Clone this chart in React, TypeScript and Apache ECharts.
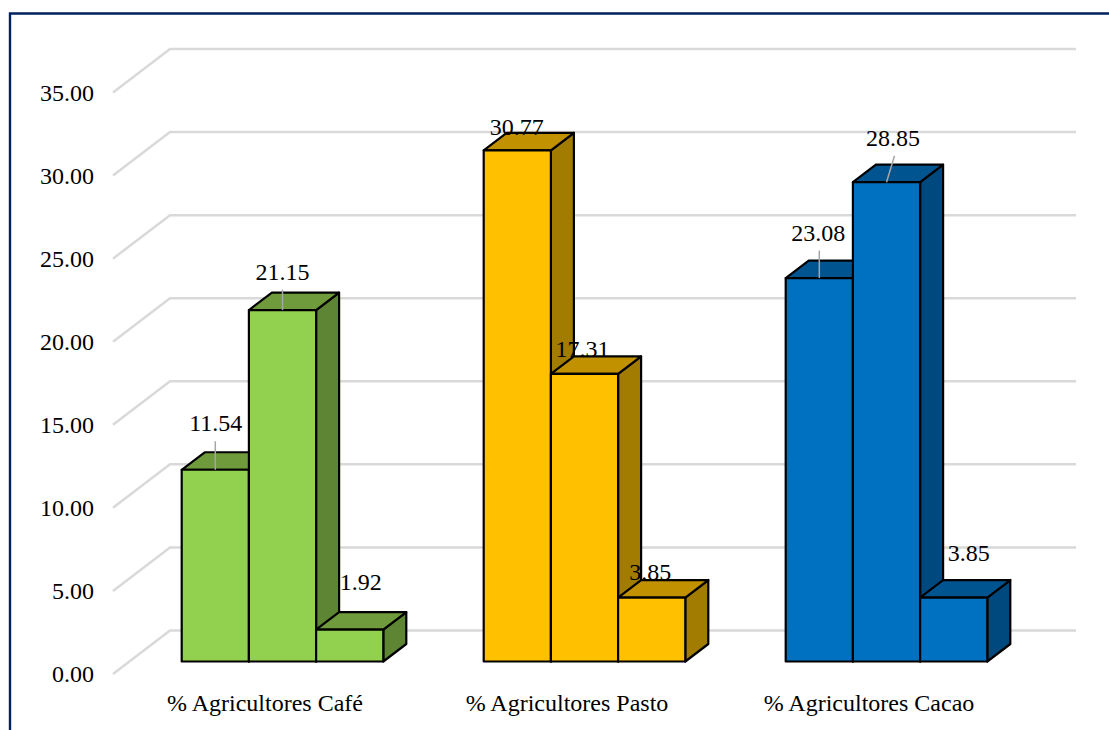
import React, { useEffect, useRef } from "react";
import * as echarts from "echarts";

const categories = ["% Agricultores Café", "% Agricultores Pasto", "% Agricultores Cacao"];
const firstBarValues = [11.54, 30.77, 23.08];
const secondBarValues = [21.15, 17.31, 28.85];
const thirdBarValues = [1.92, 3.85, 3.85];
const tickValues = [0, 5, 10, 15, 20, 25, 30, 35];

// Face colours per category: front, top, side.
const frontColors = ["#92d050", "#ffc000", "#0070c0"];
const topColors = ["#6f9b3d", "#c19100", "#005591"];
const sideColors = ["#5e8534", "#a17c00", "#00497e"];

// Data-label displacement from the centre of each bar's top front edge.
const labelShiftX = [
  [0.5, 0, 11],
  [-0.5, -2, -1.5],
  [-1, 6.5, 15],
];
const labelShiftY = [
  [-46.5, -38.5, -48],
  [-23.5, -25, -26],
  [-45.5, -44.5, -45],
];
// Leader lines: whether a label has one, and how far its far end leans.
const leaderLean = [
  [0, 0, null],
  [null, null, null],
  [0, 8, null],
];

// Oblique projection of the floor and bars.
const WALL_DX = 57;
const WALL_DY = -43.5;
const BAR_FRONT_DX = 18.5;
const BAR_FRONT_DY = -12.5;
const BAR_DEPTH_DX = 23;
const BAR_DEPTH_DY = -17.5;
const BAR_BAND_RATIO = 0.2225;
const FONT_FAMILY = '"Liberation Serif", "Times New Roman", serif';

const allValues = [firstBarValues, secondBarValues, thirdBarValues];
const barRows = categories.flatMap((_, cat) => allValues.map((vals, slot) => [cat, vals[cat], slot]));

function barGeometry(api: any, cat: number, value: number, slot: number) {
  const band = api.size([1, 0])[0];
  const width = band * BAR_BAND_RATIO;
  const [cx, topOnWall] = api.coord([cat, value]);
  const [, baseOnWall] = api.coord([cat, 0]);
  const left = cx + BAR_FRONT_DX + (slot - 1.5) * width;
  return {
    left,
    right: left + width,
    top: topOnWall + BAR_FRONT_DY,
    base: baseOnWall + BAR_FRONT_DY,
  };
}

const edge = { stroke: "#000000", lineWidth: 2.2, lineJoin: "round" };

function renderBar(_: any, api: any) {
  const cat = api.value(0);
  const { left, right, top, base } = barGeometry(api, cat, api.value(1), api.value(2));
  const dx = BAR_DEPTH_DX;
  const dy = BAR_DEPTH_DY;
  return {
    type: "group",
    children: [
      {
        type: "polygon",
        shape: { points: [[right, top], [right + dx, top + dy], [right + dx, base + dy], [right, base]] },
        style: { fill: sideColors[cat], ...edge },
      },
      {
        type: "polygon",
        shape: { points: [[left, top], [left + dx, top + dy], [right + dx, top + dy], [right, top]] },
        style: { fill: topColors[cat], ...edge },
      },
      {
        type: "rect",
        shape: { x: left, y: top, width: right - left, height: base - top },
        style: { fill: frontColors[cat], ...edge },
      },
    ],
  };
}

function renderLabel(_: any, api: any) {
  const cat = api.value(0);
  const value = api.value(1);
  const slot = api.value(2);
  const { left, right, top } = barGeometry(api, cat, value, slot);
  const cx = (left + right) / 2;
  const lx = cx + labelShiftX[cat][slot];
  const ly = top + labelShiftY[cat][slot];
  const lean = leaderLean[cat][slot];
  const children: any[] = [];
  if (lean !== null) {
    children.push({
      type: "line",
      shape: { x1: cx, y1: top, x2: cx + lean, y2: ly + 18 },
      style: { stroke: "#a6a6a6", lineWidth: 1.5 },
    });
  }
  children.push({
    type: "text",
    style: {
      text: value.toFixed(2),
      x: lx,
      y: ly,
      align: "center",
      verticalAlign: "middle",
      fill: "#000000",
      font: `24px ${FONT_FAMILY}`,
    },
  });
  return { type: "group", children };
}

function renderWall(params: any, api: any) {
  const value = api.value(1);
  const [, y] = api.coord([0, value]);
  const { x, width } = params.coordSys;
  return {
    type: "polyline",
    shape: {
      points: [
        [x, y],
        [x + WALL_DX, y + WALL_DY],
        [x + width + WALL_DX, y + WALL_DY],
      ],
    },
    style: { fill: "none", stroke: "#d9d9d9", lineWidth: 2.5 },
  };
}

export default function App() {
  const ref = useRef<HTMLDivElement>(null);

  useEffect(() => {
    const chart = echarts.init(ref.current!, undefined, { renderer: "svg" });
    chart.setOption({
      animation: false,
      backgroundColor: "#ffffff",
      grid: { left: 113, top: 92.5, width: 906, height: 581.5 },
      xAxis: {
        type: "category",
        data: categories,
        axisLine: { show: false },
        axisTick: { show: false },
        splitLine: { show: false },
        axisLabel: {
          fontFamily: FONT_FAMILY,
          fontSize: 24,
          color: "#000000",
          margin: 17,
          padding: [0, 0, 0, 2],
        },
      },
      yAxis: {
        type: "value",
        min: 0,
        max: 35,
        interval: 5,
        axisLine: { show: false },
        axisTick: { show: false },
        splitLine: { show: false },
        axisLabel: {
          fontFamily: FONT_FAMILY,
          fontSize: 24,
          color: "#000000",
          margin: 19,
          formatter: (v: number) => v.toFixed(2),
        },
      },
      graphic: [
        {
          type: "polyline",
          silent: true,
          shape: { points: [[10, 740], [10, 13.5], [1120, 13.5]] },
          style: { fill: "none", stroke: "#002060", lineWidth: 2.4 },
        },
      ],
      series: [
        {
          type: "custom",
          name: "wall",
          z: 1,
          silent: true,
          data: tickValues.map((t) => [0, t]),
          encode: { x: 0, y: 1 },
          renderItem: renderWall,
        },
        {
          type: "custom",
          name: "bars",
          z: 2,
          silent: true,
          data: barRows,
          encode: { x: 0, y: 1 },
          renderItem: renderBar,
        },
        {
          type: "custom",
          name: "labels",
          z: 3,
          silent: true,
          data: barRows,
          encode: { x: 0, y: 1 },
          renderItem: renderLabel,
        },
      ],
    });
    return () => chart.dispose();
  }, []);

  return (
    <div
      ref={ref}
      style={{ position: "fixed", left: 0, top: 0, width: 1109, height: 730 }}
    />
  );
}
